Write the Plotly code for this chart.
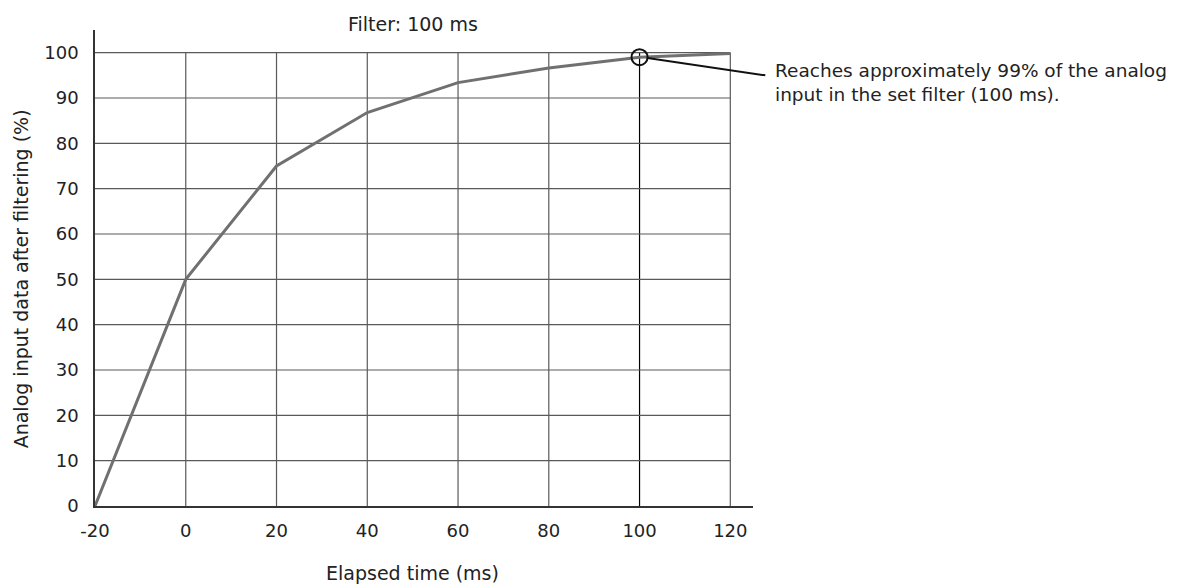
import plotly.graph_objects as go

# Data
elapsed_ms = [-20, 0, 20, 40, 60, 80, 100, 120]
filtered_pct = [0, 50, 75, 86.8, 93.4, 96.6, 99.0, 99.8]
x_ticks = [-20, 0, 20, 40, 60, 80, 100, 120]
x_tick_text = ["-20", "0", "20", "40", "60", "80", "100", "120"]
y_ticks = [0, 10, 20, 30, 40, 50, 60, 70, 80, 90, 100]

FONT = "DejaVu Sans"
TXT = "#222222"
X_MAX = 125

fig = go.Figure()
fig.add_trace(go.Scatter(
    x=elapsed_ms, y=filtered_pct, mode="lines",
    line=dict(color="#707070", width=3), hoverinfo="skip", showlegend=False,
))

shapes = []
for xv in x_ticks[1:]:
    shapes.append(dict(type="line", xref="x", yref="y", x0=xv, x1=xv,
                       y0=y_ticks[0], y1=y_ticks[-1], layer="below",
                       line=dict(color="#000000" if xv == 100 else "#5a5a5a", width=1.2)))
for yv in y_ticks[1:]:
    shapes.append(dict(type="line", xref="x", yref="y", y0=yv, y1=yv,
                       x0=x_ticks[0], x1=x_ticks[-1], layer="below",
                       line=dict(color="#5a5a5a", width=1.2)))
# highlight circle at 100 ms
shapes.append(dict(type="circle", xref="x", yref="y", xsizemode="pixel", ysizemode="pixel",
                   xanchor=100, yanchor=99.0, x0=-8, x1=8, y0=-8, y1=8,
                   line=dict(color="#111111", width=2)))
# leader line (paper x so it can leave the plot area)
span = X_MAX - x_ticks[0]
fig_w, fig_h = 1170, 578
m_l, m_r, m_t, m_b = 87, 425, 22, 80
plot_w = fig_w - m_l - m_r
x_start = (100 - x_ticks[0]) / span + 8 / plot_w
shapes.append(dict(type="line", xref="paper", yref="y", x0=x_start, y0=98.8, x1=1.0187, y1=95.0,
                   line=dict(color="#111111", width=2)))

annotations = [
    dict(text="Filter: 100 ms", xref="x", yref="y", x=50, y=100, yshift=29,
         showarrow=False, xanchor="center", yanchor="middle",
         font=dict(family=FONT, size=19, color=TXT)),
    dict(text="Elapsed time (ms)", xref="x", yref="paper", x=50, y=0, yshift=-67,
         showarrow=False, xanchor="center", yanchor="middle",
         font=dict(family=FONT, size=19, color=TXT)),
    dict(text="Analog input data after filtering (%)", xref="x", yref="y", x=-20, y=50,
         xshift=-74, textangle=-90, showarrow=False, xanchor="center", yanchor="middle",
         font=dict(family=FONT, size=19, color=TXT)),
    dict(text="Reaches approximately 99% of the analog<br>input in the set filter (100 ms).",
         xref="paper", yref="y", x=1.0309, y=93.5, showarrow=False, xanchor="left", yanchor="middle",
         align="left", font=dict(family=FONT, size=18.5, color=TXT)),
]

fig.update_layout(
    width=fig_w, height=fig_h,
    margin=dict(l=m_l, r=m_r, t=m_t, b=m_b, pad=0),
    paper_bgcolor="white", plot_bgcolor="white",
    shapes=shapes, annotations=annotations,
    xaxis=dict(range=[x_ticks[0], X_MAX], tickvals=x_ticks, ticktext=x_tick_text,
               showgrid=False, zeroline=False,
               showline=True, linecolor="#333333", linewidth=1.5, ticks="",
               ticklabelstandoff=8, tickfont=dict(family=FONT, size=18, color=TXT)),
    yaxis=dict(range=[0, 105], tickvals=y_ticks, showgrid=False, zeroline=False,
               showline=True, linecolor="#333333", linewidth=1.5, ticks="",
               ticklabelstandoff=11, tickfont=dict(family=FONT, size=18, color=TXT)),
)

fig.write_html("out.html")
